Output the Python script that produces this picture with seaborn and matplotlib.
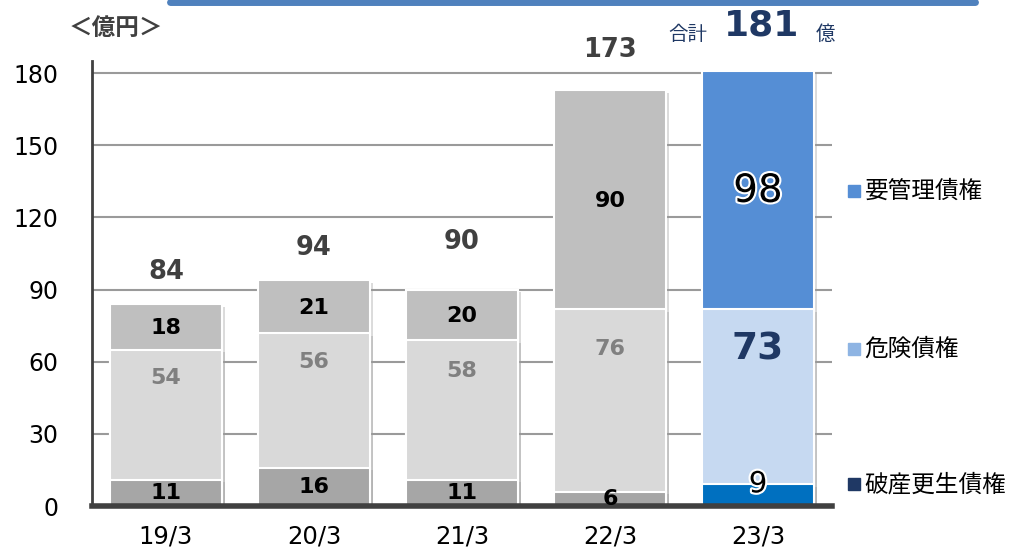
import matplotlib
matplotlib.use("Agg")
import matplotlib.pyplot as plt
import matplotlib.patheffects as pe
from matplotlib.lines import Line2D
import seaborn as sns
import numpy as np

# データ
periods = ["19/3", "20/3", "21/3", "22/3", "23/3"]
hasan = [11, 16, 11, 6, 9]          # 破産更生債権
kiken = [54, 56, 58, 76, 73]        # 危険債権
yokanri = [18, 21, 20, 90, 98]      # 要管理債権
totals = [84, 94, 90, 173, 181]
legend_names = ["要管理債権", "危険債権", "破産更生債権"]
yticks = [0, 30, 60, 90, 120, 150, 180]

sns.set_style("white")
plt.rcParams["font.family"] = ["DejaVu Sans", "Noto Sans CJK JP"]

fig = plt.figure(figsize=(10.12, 5.52), dpi=100)
ax = fig.add_axes([92 / 1012, 46 / 552, 740 / 1012, 445 / 552])

col_top = ["#bfbfbf"] * 4 + ["#558ed5"]
col_mid = ["#d9d9d9"] * 4 + ["#c6d9f1"]
col_bot = ["#a6a6a6"] * 4 + ["#0070c0"]

cum_mid = np.array(hasan) + np.array(kiken)
cum_top = np.array(totals)

shadow = [pe.SimplePatchShadow(offset=(2, -2), shadow_rgbFace="#999999", alpha=0.35), pe.Normal()]

for vals, cols in [(cum_top, col_top), (cum_mid, col_mid), (hasan, col_bot)]:
    sns.barplot(x=periods, y=vals, hue=periods, palette=cols, legend=False,
                width=0.76, edgecolor="white", linewidth=1.5, saturation=1,
                ax=ax, zorder=3)

for p in ax.patches:
    p.set_path_effects(shadow)

ax.set_xlim(-0.5, 4.5)
ax.set_ylim(0, 185)
ax.set_yticks(yticks)
ax.set_xlabel("")
ax.set_ylabel("")
ax.grid(axis="y", color="#9a9a9a", linewidth=1.5, zorder=0)
ax.set_axisbelow(True)
for s in ["top", "right"]:
    ax.spines[s].set_visible(False)
ax.spines["left"].set_color("#404040")
ax.spines["left"].set_linewidth(2)
ax.spines["bottom"].set_color("#404040")
ax.spines["bottom"].set_linewidth(4)
ax.spines["bottom"].set_zorder(5)
ax.tick_params(axis="y", length=0, pad=24, labelsize=17, labelcolor="black")
ax.tick_params(axis="x", length=0, pad=13, labelsize=17.5, labelcolor="black")

# 系列ラベル
for i in range(4):
    ax.text(i, hasan[i] / 2, str(hasan[i]), ha="center", va="center",
            fontsize=16, fontweight="bold", color="black", zorder=6)
    ax.text(i, hasan[i] + kiken[i] * 0.78, str(kiken[i]), ha="center", va="center",
            fontsize=16, fontweight="bold", color="#808080", zorder=6)
    ax.text(i, cum_mid[i] + yokanri[i] / 2, str(yokanri[i]), ha="center", va="center",
            fontsize=16, fontweight="bold", color="black", zorder=6)
    ax.annotate(str(totals[i]), (i, cum_top[i]), xytext=(0, [23, 23, 34, 29][i]),
                textcoords="offset points", ha="center", va="center",
                fontsize=18.5, fontweight="bold", color="#404040",
                annotation_clip=False, zorder=6)

outline = [pe.withStroke(linewidth=3, foreground="white")]
ax.text(4, cum_mid[4] + yokanri[4] / 2, str(yokanri[4]), ha="center", va="center",
        fontsize=28, color="black", path_effects=outline, zorder=6)
ax.text(4, hasan[4] + kiken[4] * 0.77, str(kiken[4]), ha="center", va="center",
        fontsize=27, fontweight="bold", color="#1f3864", zorder=6)
ax.annotate(str(hasan[4]), (4, hasan[4]), xytext=(0, 0), textcoords="offset points",
            ha="center", va="center", fontsize=21, color="black",
            path_effects=outline, zorder=6)

# 凡例
leg_y = [cum_mid[4] + yokanri[4] / 2, hasan[4] + kiken[4] * 0.77, hasan[4]]
leg_c = ["#558ed5", "#8eb4e3", "#1f3864"]
for name, yv, c in zip(legend_names, leg_y, leg_c):
    ax.plot([4.646], [yv], marker="s", markersize=8, color=c, clip_on=False, zorder=6)
    ax.text(4.72, yv, name, ha="left", va="center", fontsize=17, color="black",
            clip_on=False)

# ヘッダー
fig.text(0.114, 0.949, "＜億円＞", ha="center", va="center", fontsize=17,
         fontweight="bold", color="#404040")
fig.text(0.680, 0.937, "合計", ha="center", va="center", fontsize=14, color="#1f3864")
fig.text(0.753, 0.953, str(totals[4]), ha="center", va="center", fontsize=26,
         fontweight="bold", color="#1f3864")
fig.text(0.816, 0.937, "億", ha="center", va="center", fontsize=14, color="#1f3864")
fig.add_artist(Line2D([170 / 1012, 975 / 1012], [0.997, 0.997], color="#4f81bd",
                      linewidth=5, solid_capstyle="round", transform=fig.transFigure))

fig.savefig("out.png", dpi=100)
